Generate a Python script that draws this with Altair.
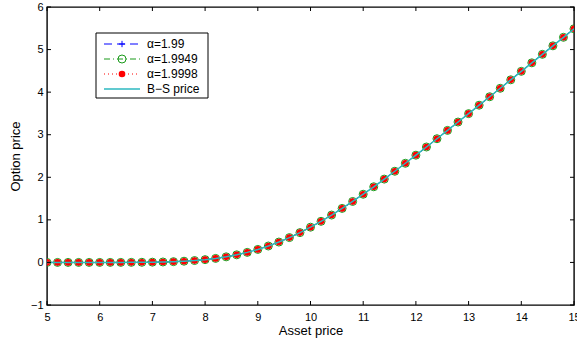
import altair as alt
import pandas as pd

FONT = "Liberation Sans"

# ---- data ----
asset = [5.0, 5.2, 5.4, 5.6, 5.8, 6.0, 6.2, 6.4, 6.6, 6.8,
         7.0, 7.2, 7.4, 7.6, 7.8, 8.0, 8.2, 8.4, 8.6, 8.8,
         9.0, 9.2, 9.4, 9.6, 9.8, 10.0, 10.2, 10.4, 10.6, 10.8,
         11.0, 11.2, 11.4, 11.6, 11.8, 12.0, 12.2, 12.4, 12.6, 12.8,
         13.0, 13.2, 13.4, 13.6, 13.8, 14.0, 14.2, 14.4, 14.6, 14.8, 15.0]

price_a199 = [0.0, 0.0, 0.0, 0.0, 0.0, 0.0001, 0.0003, 0.0008, 0.0017, 0.0034,
              0.0062, 0.0107, 0.0180, 0.0285, 0.0443, 0.0657, 0.0943, 0.1315, 0.1785, 0.2360,
              0.3053, 0.3858, 0.4787, 0.5836, 0.7001, 0.8276, 0.9655, 1.1130, 1.2687, 1.4320,
              1.6018, 1.7772, 1.9575, 2.1417, 2.3292, 2.5194, 2.7117, 2.9058, 3.1013, 3.2978,
              3.4953, 3.6932, 3.8918, 4.0906, 4.2898, 4.4892, 4.6889, 4.8885, 5.0882, 5.2881, 5.4880]

price_a19949 = [0.0, 0.0, 0.0, 0.0, 0.0, 0.0001, 0.0003, 0.0008, 0.0017, 0.0034,
                0.0062, 0.0107, 0.0180, 0.0285, 0.0443, 0.0657, 0.0943, 0.1315, 0.1785, 0.2360,
                0.3053, 0.3858, 0.4787, 0.5836, 0.7001, 0.8276, 0.9655, 1.1130, 1.2687, 1.4320,
                1.6018, 1.7772, 1.9575, 2.1417, 2.3292, 2.5194, 2.7117, 2.9058, 3.1013, 3.2978,
                3.4953, 3.6932, 3.8918, 4.0906, 4.2898, 4.4892, 4.6889, 4.8885, 5.0882, 5.2881, 5.4880]

price_a19998 = [0.0, 0.0, 0.0, 0.0, 0.0, 0.0001, 0.0003, 0.0008, 0.0017, 0.0034,
                0.0062, 0.0107, 0.0180, 0.0285, 0.0443, 0.0657, 0.0943, 0.1315, 0.1785, 0.2360,
                0.3053, 0.3858, 0.4787, 0.5836, 0.7001, 0.8276, 0.9655, 1.1130, 1.2687, 1.4320,
                1.6018, 1.7772, 1.9575, 2.1417, 2.3292, 2.5194, 2.7117, 2.9058, 3.1013, 3.2978,
                3.4953, 3.6932, 3.8918, 4.0906, 4.2898, 4.4892, 4.6889, 4.8885, 5.0882, 5.2881, 5.4880]

price_bs = [0.0, 0.0, 0.0, 0.0, 0.0, 0.0001, 0.0003, 0.0008, 0.0017, 0.0034,
            0.0062, 0.0107, 0.0180, 0.0285, 0.0443, 0.0657, 0.0943, 0.1315, 0.1785, 0.2360,
            0.3053, 0.3858, 0.4787, 0.5836, 0.7001, 0.8276, 0.9655, 1.1130, 1.2687, 1.4320,
            1.6018, 1.7772, 1.9575, 2.1417, 2.3292, 2.5194, 2.7117, 2.9058, 3.1013, 3.2978,
            3.4953, 3.6932, 3.8918, 4.0906, 4.2898, 4.4892, 4.6889, 4.8885, 5.0882, 5.2881, 5.4880]

x_ticks = [5, 6, 7, 8, 9, 10, 11, 12, 13, 14, 15]
y_ticks = [-1, 0, 1, 2, 3, 4, 5, 6]

legend_labels = ["\u03b1=1.99", "\u03b1=1.9949", "\u03b1=1.9998", "B\u2212S price"]

BLUE = "#0000ff"
GREEN = "#1a9a1a"
RED = "#ff0000"
CYAN = "#2cb8c0"

W, H = 527, 298

df = pd.DataFrame({"S": asset, "a1": price_a199, "a2": price_a19949,
                   "a3": price_a19998, "bs": price_bs})

xs = alt.Scale(domain=[5, 15], nice=False, zero=False)
ys = alt.Scale(domain=[-1, 6], nice=False, zero=False)

xaxis = alt.Axis(values=x_ticks, title="Asset price", ticks=False, domain=False,
                 grid=False, labelPadding=6, titlePadding=2, format="d",
                 labelFlush=False, labelOverlap=False)
yaxis = alt.Axis(values=y_ticks, title="Option price", ticks=False, domain=False,
                 grid=False, labelPadding=4, titlePadding=8, format="d",
                 labelFlush=False, labelOverlap=False)

base = alt.Chart(df)

def enc(col):
    return dict(
        x=alt.X("S:Q", scale=xs, axis=xaxis),
        y=alt.Y(f"{col}:Q", scale=ys, axis=yaxis),
    )

plus_path = "M-1,0H1M0,-1V1"

blue_line = base.mark_line(color=BLUE, strokeWidth=1, strokeDash=[6, 4], clip=True).encode(**enc("a1"))
blue_pts = base.mark_point(shape=plus_path, color=BLUE, size=40, strokeWidth=1, opacity=1, clip=True).encode(**enc("a1"))
green_line = base.mark_line(color=GREEN, strokeWidth=1, strokeDash=[6, 3, 1, 3], clip=True).encode(**enc("a2"))
green_pts = base.mark_point(shape="circle", filled=False, color=GREEN, size=64, strokeWidth=1, opacity=1, clip=True).encode(**enc("a2"))
red_line = base.mark_line(color=RED, strokeWidth=1, strokeDash=[1, 3], clip=True).encode(**enc("a3"))
red_pts = base.mark_point(shape="circle", filled=True, color=RED, size=44, opacity=1, clip=True).encode(**enc("a3"))
cyan_line = base.mark_line(color=CYAN, strokeWidth=1.5, clip=True).encode(**enc("bs"))

# inward ticks on all four sides
xt = alt.Chart(pd.DataFrame({"t": x_ticks}))
yt = alt.Chart(pd.DataFrame({"t": y_ticks}))
TL = 4
tick_bottom = xt.mark_rule(color="black", strokeWidth=1).encode(
    x=alt.X("t:Q", scale=xs, axis=xaxis), y=alt.value(H), y2=alt.value(H - TL))
tick_top = xt.mark_rule(color="black", strokeWidth=1).encode(
    x=alt.X("t:Q", scale=xs, axis=xaxis), y=alt.value(0), y2=alt.value(TL))
tick_left = yt.mark_rule(color="black", strokeWidth=1).encode(
    y=alt.Y("t:Q", scale=ys, axis=yaxis), x=alt.value(0), x2=alt.value(TL))
tick_right = yt.mark_rule(color="black", strokeWidth=1).encode(
    y=alt.Y("t:Q", scale=ys, axis=yaxis), x=alt.value(W), x2=alt.value(W - TL))

# ---- legend box (MATLAB style) ----
one = alt.Chart(pd.DataFrame({"k": [0]}))
LX0, LX1, LY0, LY1 = 49, 161, 26, 91
rows_y = [37, 52, 67, 82]
SX0, SX1, MX, TX = 57, 93, 75, 100

legend_layers = [
    one.mark_rect(fill="white", stroke="black", strokeWidth=1).encode(
        x=alt.value(LX0), x2=alt.value(LX1), y=alt.value(LY0), y2=alt.value(LY1))
]
styles = [
    (BLUE, [8, 5], plus_path, False, 40),
    (GREEN, [6, 3, 1, 3], "circle", False, 64),
    (RED, [1, 3], "circle", True, 44),
    (CYAN, None, None, None, None),
]
for lab, ry, (col, dash, shp, fil, sz) in zip(legend_labels, rows_y, styles):
    kw = dict(color=col, strokeWidth=1.5 if dash is None else 1)
    if dash is not None:
        kw["strokeDash"] = dash
    legend_layers.append(one.mark_rule(**kw).encode(
        x=alt.value(SX0), x2=alt.value(SX1), y=alt.value(ry)))
    if shp is not None:
        legend_layers.append(one.mark_point(shape=shp, filled=fil, color=col, size=sz,
                                            strokeWidth=1, opacity=1).encode(
            x=alt.value(MX), y=alt.value(ry)))
    legend_layers.append(one.mark_text(align="left", baseline="middle", font=FONT,
                                       fontSize=12, color="black").encode(
        x=alt.value(TX), y=alt.value(ry), text=alt.value(lab)))

chart = alt.layer(
    blue_line, blue_pts, green_line, green_pts, red_line, red_pts, cyan_line,
    tick_bottom, tick_top, tick_left, tick_right,
    *legend_layers
).properties(
    width=W, height=H,
    autosize=alt.AutoSizeParams(type="none"),
    padding={"left": 47, "top": 7, "right": 3, "bottom": 35},
    background="white",
).configure_view(
    stroke="#000000", strokeWidth=1.4
).configure_axis(
    labelFont=FONT, labelFontSize=11, labelColor="black",
    titleFont=FONT, titleFontSize=13, titleFontWeight="normal", titleColor="black",
)

chart.save("out.html", embed_options={"renderer": "svg", "actions": False})
